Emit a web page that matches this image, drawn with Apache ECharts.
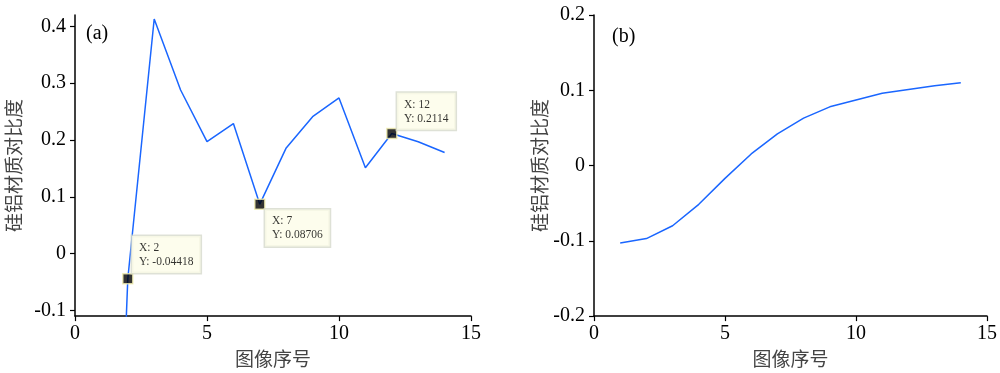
<!DOCTYPE html>
<html><head><meta charset="utf-8">
<script src="https://cdn.jsdelivr.net/npm/echarts@6/dist/echarts.min.js"></script>
<style>html,body{margin:0;padding:0;background:#fff}#c{width:1000px;height:373px}</style>
</head><body><div id="c"></div>
<script>
const xA = [1,2,3,4,5,6,7,8,9,10,11,12,13,14];
const yA = [-1.24,-0.04418,0.413,0.288,0.197,0.229,0.08706,0.186,0.241,0.274,0.151,0.2114,0.197,0.178];
const xB = [1,2,3,4,5,6,7,8,9,10,11,12,13,14];
const yB = [-0.103,-0.097,-0.080,-0.0515,-0.017,0.0154,0.042,0.063,0.078,0.087,0.096,0.101,0.106,0.110];
const tipX = [2,7,12];
const tipY = [-0.04418,0.08706,0.2114];
const yTicksA = [-0.1,0,0.1,0.2,0.3,0.4];
const yTicksB = [-0.2,-0.1,0,0.1,0.2];
const xTicks = [0,5,10,15];
const xName = '图像序号';
const yName = '硅铝材质对比度';
const panelLabels = ['(a)','(b)'];

const serif = '"Liberation Serif","DejaVu Serif",serif';
const cjk = '"Noto Sans CJK SC",sans-serif';
const lineColor = '#1a66ff';
const tipPos = [[10,-37],[11,11],[11,-35]];

function xAxis(gi){
  return {gridIndex:gi,type:'value',min:0,max:15,interval:5,
    axisLine:{onZero:false,lineStyle:{color:'#000',width:1.5}},
    axisTick:{show:true,length:5,lineStyle:{color:'#000',width:1.2}},
    axisLabel:{color:'#000',fontFamily:serif,fontSize:20,margin:8},
    splitLine:{show:false},
    name:xName,nameLocation:'middle',nameGap:31,
    nameTextStyle:{color:'#444',fontFamily:cjk,fontSize:19}};
}
function yAxis(gi,min,max,ticks,gap){
  return {gridIndex:gi,type:'value',min:min,max:max,
    axisLine:{show:true,onZero:false,lineStyle:{color:'#000',width:1.5}},
    axisTick:{show:true,length:5,customValues:ticks,lineStyle:{color:'#000',width:1.2}},
    axisLabel:{color:'#000',fontFamily:serif,fontSize:20,margin:9,customValues:ticks,
      formatter:v=>String(Math.round(v*10)/10)},
    splitLine:{show:false},
    name:yName,nameLocation:'middle',nameGap:gap,nameRotate:90,
    nameTextStyle:{color:'#444',fontFamily:cjk,fontSize:19}};
}

const chart = echarts.init(document.getElementById('c'),null,{renderer:'canvas'});
chart.setOption({
  animation:false,
  grid:[{left:75,top:15,width:396,height:304},{left:594,top:15,width:394,height:304}],
  xAxis:[xAxis(0),xAxis(1)],
  yAxis:[yAxis(0,-0.11,0.42,yTicksA,52),yAxis(1,-0.2,0.2,yTicksB,45)],
  graphic:[
    {type:'text',left:86,top:24,style:{text:panelLabels[0],font:'20px '+serif,fill:'#000'}},
    {type:'text',left:612,top:27,style:{text:panelLabels[1],font:'20px '+serif,fill:'#000'}}
  ],
  series:[
    {type:'line',xAxisIndex:0,yAxisIndex:0,data:xA.map((x,i)=>[x,yA[i]]),showSymbol:false,clip:true,
      lineStyle:{color:lineColor,width:1.5},z:2},
    {type:'line',xAxisIndex:1,yAxisIndex:1,data:xB.map((x,i)=>[x,yB[i]]),showSymbol:false,
      lineStyle:{color:lineColor,width:1.5}},
    {type:'scatter',xAxisIndex:0,yAxisIndex:0,z:5,
      data:tipX.map((x,i)=>({value:[x,tipY[i]],label:{position:tipPos[i]}})),
      symbol:'rect',symbolSize:10,
      itemStyle:{color:'#000',borderColor:'#f2efb0',borderWidth:1.5},
      label:{show:true,align:'left',verticalAlign:'top',
        formatter:p=>'X: '+p.value[0]+'\nY: '+p.value[1],
        fontFamily:serif,fontSize:11.5,lineHeight:14,color:'#000',
        backgroundColor:'#fdfde8',borderColor:'#d6d9cc',borderWidth:1.5,padding:[5,7,4,7]}}
  ]
});
</script></body></html>
